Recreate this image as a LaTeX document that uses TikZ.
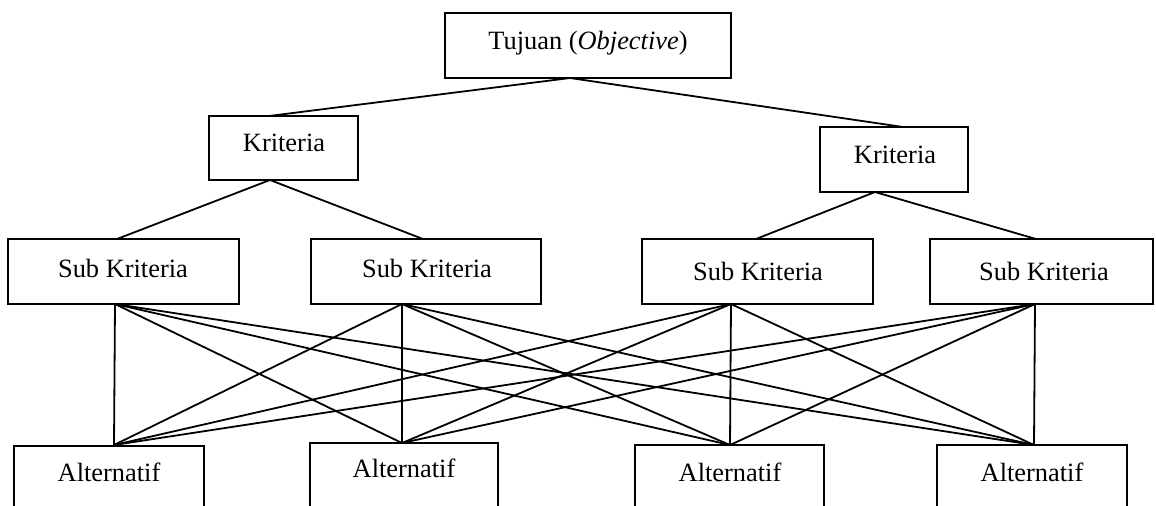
\documentclass[tikz,border=0pt]{standalone}
\usepackage{fontspec}
\setmainfont{Liberation Serif}
\usetikzlibrary{fit}
\begin{document}
\begin{tikzpicture}[x=0.5pt,y=-0.5pt,
  box/.style={draw=black, line width=1pt, inner sep=0pt, rectangle},
  lbl/.style={inner sep=0pt, font=\fontsize{13.2}{15}\selectfont},
  conn/.style={draw=black, line width=0.9pt}]
\useasboundingbox (0,0) rectangle (1156,505);
\clip (0,0) rectangle (1156,505);
% boxes
\node[box, fit={(445,13) (731,78)}] (T) {};
\node[box, fit={(209,116) (358,180)}] (K1) {};
\node[box, fit={(820,127) (968,192)}] (K2) {};
\node[box, fit={(8,239) (239,304)}] (S1) {};
\node[box, fit={(311,239) (541,304)}] (S2) {};
\node[box, fit={(642,239) (873,304)}] (S3) {};
\node[box, fit={(930,239) (1153,304)}] (S4) {};
\node[box, fit={(14,446) (204,530)}] (A1) {};
\node[box, fit={(310,443) (498,530)}] (A2) {};
\node[box, fit={(635,445) (824,530)}] (A3) {};
\node[box, fit={(937,445) (1127,530)}] (A4) {};
% labels
\node[lbl] (tT) at (588,43) {Tujuan (\textit{Objective})};
\node[lbl] (tK1) at (284,143) {Kriteria};
\node[lbl] (tK2) at (895,155) {Kriteria};
\node[lbl] (tS1) at (123,268) {Sub Kriteria};
\node[lbl] (tS2) at (427,268) {Sub Kriteria};
\node[lbl] (tS3) at (758,271) {Sub Kriteria};
\node[lbl] (tS4) at (1044,271) {Sub Kriteria};
\node[lbl] (tA1) at (109,472) {Alternatif};
\node[lbl] (tA2) at (404,468) {Alternatif};
\node[lbl] (tA3) at (730,472) {Alternatif};
\node[lbl] (tA4) at (1032,472) {Alternatif};
% connection points on the box borders
\coordinate (T-b) at (570,78);
\coordinate (K1-t) at (269,116);
\coordinate (K1-b) at (270,180);
\coordinate (K2-t) at (903,127);
\coordinate (K2-b) at (875,192);
\coordinate (S1-t) at (117,239);
\coordinate (S2-t) at (423,239);
\coordinate (S3-t) at (756,239);
\coordinate (S4-t) at (1036,239);
\coordinate (S1-b) at (115,304);
\coordinate (S2-b) at (402,304);
\coordinate (S3-b) at (731,304);
\coordinate (S4-b) at (1035,304);
\coordinate (A1-t) at (114,445);
\coordinate (A2-t) at (402,443);
\coordinate (A3-t) at (730,445);
\coordinate (A4-t) at (1034,445);
% connectors
\draw[conn] (T-b) -- (K1-t);
\draw[conn] (T-b) -- (K2-t);
\draw[conn] (K1-b) -- (S1-t);
\draw[conn] (K1-b) -- (S2-t);
\draw[conn] (K2-b) -- (S3-t);
\draw[conn] (K2-b) -- (S4-t);
\foreach \s in {1,2,3,4}{
  \foreach \a in {1,2,3,4}{
    \draw[conn] (S\s-b) -- (A\a-t);
  }
}
\end{tikzpicture}
\end{document}
